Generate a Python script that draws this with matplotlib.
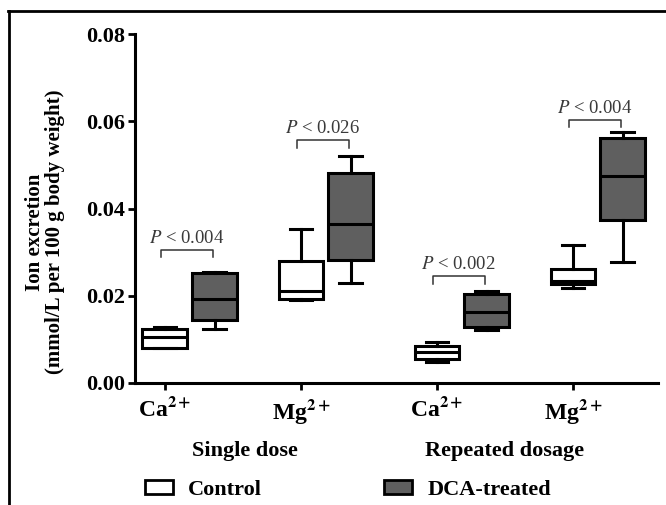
import matplotlib
matplotlib.use("Agg")
import matplotlib.pyplot as plt
from matplotlib.patches import Patch
from matplotlib.lines import Line2D

plt.rcParams['font.family'] = ['Liberation Serif', 'DejaVu Serif']
plt.rcParams['mathtext.fontset'] = 'stix'
plt.rcParams['mathtext.default'] = 'bf'

# data: box stats (whislo, q1, median, q3, whishi)
ions = ['Ca$^{2+}$', 'Mg$^{2+}$', 'Ca$^{2+}$', 'Mg$^{2+}$']
groups = ['Single dose', 'Repeated dosage']
control_stats = [
    [0.0080, 0.0081, 0.0105, 0.0123, 0.0129],
    [0.0190, 0.0192, 0.0211, 0.0280, 0.0354],
    [0.0047, 0.0055, 0.0070, 0.0085, 0.0093],
    [0.0218, 0.0226, 0.0234, 0.0261, 0.0316],
]
dca_stats = [
    [0.0123, 0.0144, 0.0192, 0.0253, 0.0255],
    [0.0230, 0.0282, 0.0364, 0.0482, 0.0520],
    [0.0121, 0.0128, 0.0163, 0.0203, 0.0212],
    [0.0278, 0.0374, 0.0475, 0.0561, 0.0576],
]
p_labels = ['0.004', '0.026', '0.002', '0.004']
bracket_y = [0.0305, 0.0558, 0.0246, 0.0603]
bracket_leg = [0.0288, 0.0538, 0.0228, 0.0587]

fig = plt.figure(figsize=(6.66, 5.05), dpi=100)
ax = fig.add_axes([135 / 666, 1 - 383 / 505, 523 / 666, 349 / 505])

offset = 0.365
width = 0.33
lw = 2.2


def to_dicts(stats):
    return [dict(whislo=s[0], q1=s[1], med=s[2], q3=s[3], whishi=s[4], fliers=[])
            for s in stats]


pos_c = [i for i in range(len(ions))]
pos_d = [i + offset for i in range(len(ions))]

for stats, pos, fc in [(control_stats, pos_c, 'white'), (dca_stats, pos_d, '#5f5f5f')]:
    ax.bxp(to_dicts(stats), positions=pos, widths=width, capwidths=width / 2,
           patch_artist=True, showfliers=False,
           boxprops=dict(facecolor=fc, edgecolor='black', linewidth=lw),
           medianprops=dict(color='black', linewidth=lw),
           whiskerprops=dict(color='black', linewidth=lw),
           capprops=dict(color='black', linewidth=lw))

# significance brackets
for i in range(len(ions)):
    x1 = pos_c[i] - 0.03
    x2 = pos_d[i] - 0.015
    ax.plot([x1, x1, x2, x2], [bracket_leg[i], bracket_y[i], bracket_y[i], bracket_leg[i]],
            color='#333333', linewidth=1.1, clip_on=False)
    ax.text((x1 + x2) / 2, bracket_y[i] + 0.0007, r'$\mathit{P}$ < ' + p_labels[i],
            ha='center', va='bottom', fontsize=13.5, fontweight='normal', color='#3a3a3a')

ax.set_xlim(-0.22, 3.625)
ax.set_ylim(0, 0.08)
ax.set_yticks([0, 0.02, 0.04, 0.06, 0.08])
ax.set_yticklabels(['0.00', '0.02', '0.04', '0.06', '0.08'], fontsize=16, fontweight='bold')
ax.set_xticks(pos_c)
ax.set_xticklabels(ions, fontsize=17, fontweight='bold')
ax.tick_params(axis='both', width=2, length=5, direction='out')
ax.tick_params(axis='y', pad=2)
ax.tick_params(axis='x', pad=5)
for s in ['top', 'right']:
    ax.spines[s].set_visible(False)
for s in ['left', 'bottom']:
    ax.spines[s].set_linewidth(2.2)

ax.set_ylabel('Ion excretion\n(mmol/L per 100 g body weight)', fontsize=15,
              fontweight='bold', linespacing=1.0)
ax.yaxis.set_label_coords(-0.134, 0.433)

for gx, g in zip([0.59, 2.5], groups):
    ax.text(gx, -0.0155, g, ha='center', va='center', fontsize=16, fontweight='bold',
            transform=ax.transData)

handles = [Patch(facecolor='white', edgecolor='black', linewidth=2),
           Patch(facecolor='#5f5f5f', edgecolor='black', linewidth=2)]
leg = fig.legend(handles, ['Control', 'DCA-treated'], loc='lower left', ncol=2,
                 bbox_to_anchor=(145 / 666, 5 / 505), frameon=False, borderpad=0,
                 borderaxespad=0, handlelength=1.26, handleheight=0.55, handletextpad=0.68,
                 columnspacing=5.5, prop=dict(family='Liberation Serif', weight='bold', size=16))

# frame lines of the original figure (top and left)
fig.add_artist(Line2D([9 / 666, 9 / 666], [0, 1 - 10.5 / 505], color='black', linewidth=2,
                      transform=fig.transFigure))
fig.add_artist(Line2D([8 / 666, 1], [1 - 10.5 / 505, 1 - 10.5 / 505], color='black',
                      linewidth=2, transform=fig.transFigure))

fig.savefig('out.png', dpi=100)
